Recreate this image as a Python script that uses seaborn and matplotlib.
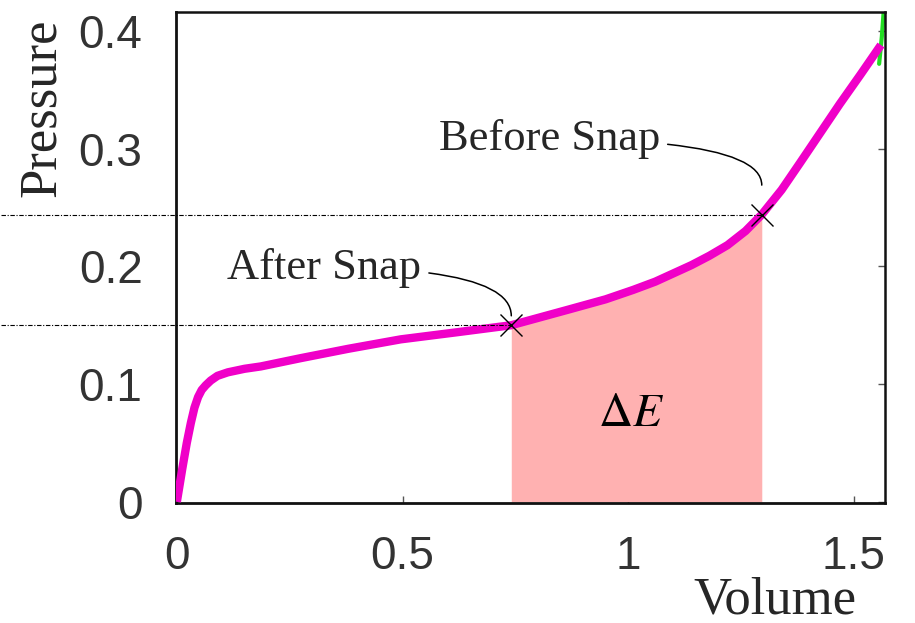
import numpy as np
import pandas as pd
import matplotlib
matplotlib.use("Agg")
import matplotlib.pyplot as plt
import seaborn as sns

# Pressure-volume curve of the snapping structure
volume = [0.000, 0.012, 0.022, 0.031, 0.039, 0.047, 0.055, 0.064, 0.075, 0.090,
          0.113, 0.150, 0.186, 0.274, 0.380, 0.496, 0.620, 0.741, 0.865, 0.950,
          1.011, 1.060, 1.100, 1.140, 1.180, 1.220, 1.260, 1.296, 1.340, 1.381,
          1.425, 1.469, 1.515, 1.560]
pressure = [0.000, 0.028, 0.050, 0.067, 0.080, 0.089, 0.095, 0.099, 0.103, 0.107,
            0.110, 0.113, 0.115, 0.122, 0.130, 0.138, 0.144, 0.150, 0.163, 0.172,
            0.180, 0.187, 0.194, 0.201, 0.209, 0.218, 0.230, 0.244, 0.265, 0.288,
            0.313, 0.338, 0.363, 0.388]

# Snap states
after_snap = (0.741, 0.150)
before_snap = (1.296, 0.244)

# Short green trace visible at the upper right edge
green_volume = [1.556, 1.562, 1.566]
green_pressure = [0.372, 0.395, 0.416]

x_ticks = [0, 0.5, 1, 1.5]
x_tick_labels = ["0", "0.5", "1", "1.5"]
y_ticks = [0, 0.1, 0.2, 0.3, 0.4]
y_tick_labels = ["0", "0.1", "0.2", "0.3", "0.4"]

sns.set_style("white")
plt.rcParams["mathtext.fontset"] = "stix"

fig = plt.figure(figsize=(9.15, 6.23), dpi=100)
ax = fig.add_axes([0.1923, 0.1926, 0.9672 - 0.1923, 0.9807 - 0.1926])

curve = pd.DataFrame({"Volume": volume, "Pressure": pressure})

# Energy released between the two snap states
seg = curve[(curve["Volume"] >= after_snap[0]) & (curve["Volume"] <= before_snap[0])]
ax.fill_between(seg["Volume"], 0, seg["Pressure"], color="#FFB1B1", lw=0, zorder=1)

sns.lineplot(x=green_volume, y=green_pressure, ax=ax, color="#22DD22", lw=3,
             sort=False, zorder=2)
sns.lineplot(data=curve, x="Volume", y="Pressure", ax=ax, color="#F000C8",
             lw=6, sort=False, zorder=3, solid_capstyle="butt",
             solid_joinstyle="round")

# Reference levels of the snap states
for vx, vy in (after_snap, before_snap):
    ax.plot([-0.39, vx], [vy, vy], color="black", lw=0.8, clip_on=False,
            dashes=(4, 1.5, 1, 1.5), zorder=4)
    ax.plot([vx], [vy], marker="x", color="black", ms=16, mew=1.0, zorder=5)

serif = ["Liberation Serif", "DejaVu Serif"]
ax.annotate("After Snap", xy=(after_snap[0], after_snap[1] + 0.008),
            xytext=(0.542, 0.199), textcoords="data",
            ha="right", va="center", fontsize=32, family=serif,
            arrowprops=dict(arrowstyle="-", color="black", lw=1.1,
                            shrinkA=3, shrinkB=0,
                            connectionstyle="angle3,angleA=0,angleB=90"))
ax.annotate("Before Snap", xy=(before_snap[0], before_snap[1] + 0.025),
            xytext=(1.071, 0.308), textcoords="data",
            ha="right", va="center", fontsize=32, family=serif,
            arrowprops=dict(arrowstyle="-", color="black", lw=1.1,
                            shrinkA=3, shrinkB=0,
                            connectionstyle="angle3,angleA=0,angleB=90"))

ax.text(1.007, 0.075, r"$\Delta E$", fontsize=34, ha="center", va="center",
        color="black", zorder=6)

ax.set_xlim(-0.002, 1.569)
ax.set_ylim(-0.001, 0.416)
ax.set_xticks(x_ticks)
ax.set_xticklabels(x_tick_labels)
ax.set_yticks(y_ticks)
ax.set_yticklabels(y_tick_labels)

sans = ["Liberation Sans", "DejaVu Sans"]
for lab in ax.get_xticklabels() + ax.get_yticklabels():
    lab.set_family(sans)
    lab.set_fontsize(33)
    lab.set_color("#333333")

ax.tick_params(axis="x", which="both", direction="in", length=5, width=1,
               color="#555555", pad=23, bottom=True, top=False)
ax.tick_params(axis="y", which="both", direction="in", length=5, width=1,
               color="#555555", pad=24, left=False, right=True)

for side, sp in ax.spines.items():
    sp.set_visible(True)
    sp.set_color("#111111")
    sp.set_linewidth(2.0 if side in ("left", "bottom") else 1.8)

ax.set_xlabel("")
ax.set_ylabel("")
fig.text(857 / 915, 1 - 600 / 623, "Volume", fontsize=38, family=serif,
         ha="right", va="center")
fig.text(42 / 915, 1 - 108 / 623, "Pressure", fontsize=38, family=serif,
         ha="center", va="center", rotation=90)

fig.savefig("out.png", dpi=100)
